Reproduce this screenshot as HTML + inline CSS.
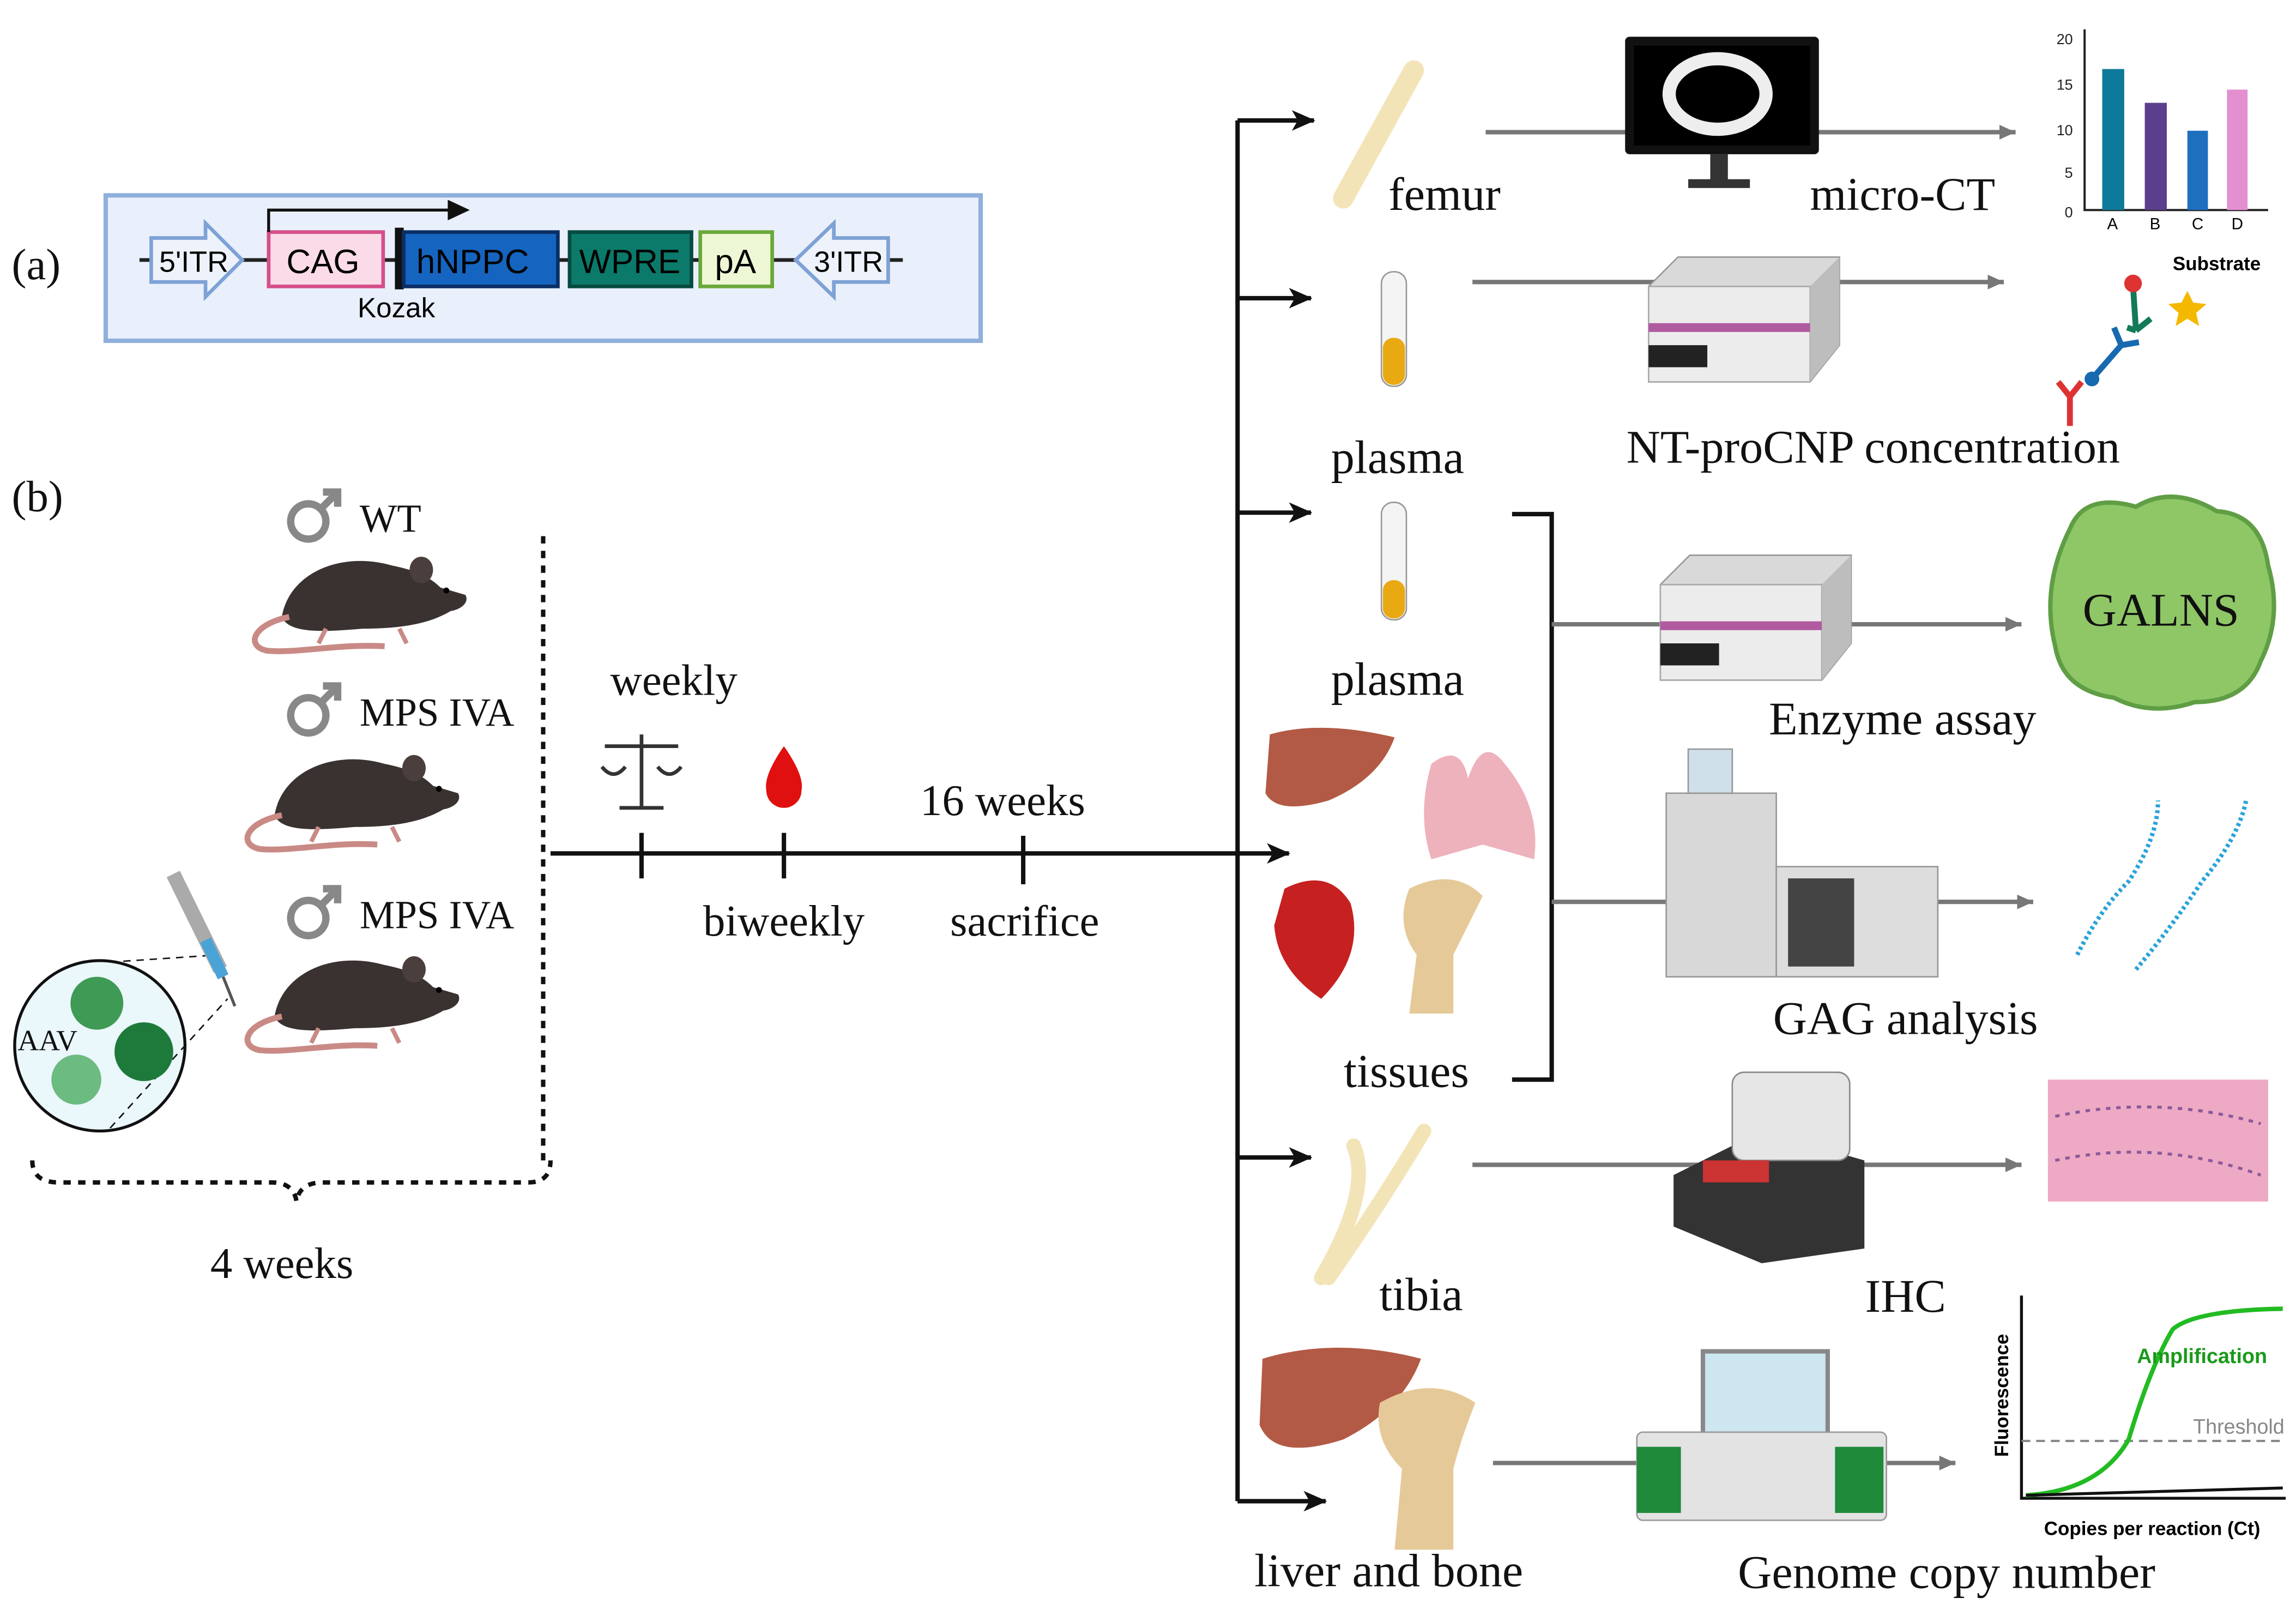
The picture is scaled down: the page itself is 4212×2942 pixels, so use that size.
<!DOCTYPE html>
<html><head><meta charset="utf-8"><style>
html,body{margin:0;padding:0;background:#fff}
svg{display:block}
.s{font-family:"Liberation Serif",serif;fill:#111}
.a{font-family:"Liberation Sans",sans-serif}
</style></head><body>
<svg width="4212" height="2942" viewBox="0 0 1564 1092" preserveAspectRatio="none" xmlns="http://www.w3.org/2000/svg">
<defs>
<marker id="ak" markerWidth="8" markerHeight="8" refX="7" refY="4" orient="auto" markerUnits="userSpaceOnUse"><path d="M0,0 L16,4 L0,8 Z" transform="scale(0.5,1)" fill="#111"/></marker>
<marker id="ag" markerWidth="12" markerHeight="12" refX="11" refY="6" orient="auto" markerUnits="userSpaceOnUse"><path d="M0,1 L11,6 L0,11 Z" fill="#777"/></marker>
<marker id="ab" markerWidth="16" markerHeight="14" refX="15" refY="7" orient="auto" markerUnits="userSpaceOnUse"><path d="M0,0 L16,7 L0,14 L4,7 Z" fill="#111"/></marker>
<g id="mouse">
<path d="M0,40 C5,10 40,-5 75,5 C90,8 100,12 108,20 L125,25 C128,30 122,35 115,36 C100,45 80,48 55,48 C30,50 5,52 0,40Z" fill="#3a3230"/>
<ellipse cx="95" cy="8" rx="8" ry="9" fill="#4a3f3c"/><circle cx="112" cy="22" r="2" fill="#000"/>
<path d="M5,40 C-20,45 -25,60 -10,63 C10,65 40,58 70,60" stroke="#c98a86" stroke-width="4" fill="none"/>
<path d="M30,48 l-5,10 M80,48 l5,10" stroke="#c98a86" stroke-width="3"/>
</g>
<g id="male"><circle cx="0" cy="0" r="12" fill="none" stroke="#888" stroke-width="5"/><path d="M8,-8 L20,-20 M10,-20 L20,-20 L20,-10" stroke="#888" stroke-width="5" fill="none"/></g>
<g id="reader"><path d="M0,20 L20,0 L130,0 L130,60 L110,85 L0,85Z" fill="#d9d9d9" stroke="#999"/><rect x="0" y="20" width="110" height="65" fill="#ececec" stroke="#aaa"/><path d="M110,20 L130,0 L130,60 L110,85Z" fill="#bdbdbd"/><rect x="0" y="45" width="110" height="6" fill="#b05aa0"/><rect x="0" y="60" width="40" height="15" fill="#222"/></g>
</defs>

<!-- (a) -->
<text x="8" y="190" class="s" font-size="30">(a)</text>
<rect x="72" y="133" width="596" height="99" fill="#e9f0fb" stroke="#8fb0dc" stroke-width="3"/>
<line x1="95" y1="177" x2="615" y2="177" stroke="#222" stroke-width="2.5"/>
<path d="M103,162 L140,162 L140,152 L165,177 L140,202 L140,192 L103,192Z" fill="#eef3fb" stroke="#7ea2d6" stroke-width="2.5"/>
<text x="132" y="185" class="a" font-size="20" text-anchor="middle">5'ITR</text>
<rect x="183" y="158" width="78" height="37" fill="#fbdbe7" stroke="#d64f8a" stroke-width="2.5"/>
<text x="220" y="186" class="a" font-size="23" text-anchor="middle">CAG</text>
<rect x="269" y="155" width="6" height="42" fill="#111"/>
<rect x="275" y="158" width="105" height="37" fill="#1565c0" stroke="#0a2f66" stroke-width="2.5"/>
<text x="322" y="186" class="a" font-size="23" text-anchor="middle">hNPPC</text>
<rect x="388" y="158" width="83" height="37" fill="#0b7a6a" stroke="#064a40" stroke-width="2.5"/>
<text x="429" y="186" class="a" font-size="23" text-anchor="middle">WPRE</text>
<rect x="477" y="158" width="49" height="37" fill="#eef7d5" stroke="#6aa83a" stroke-width="2.5"/>
<text x="501" y="186" class="a" font-size="23" text-anchor="middle">pA</text>
<path d="M605,162 L568,162 L568,152 L542,177 L568,202 L568,192 L605,192Z" fill="#eef3fb" stroke="#7ea2d6" stroke-width="2.5"/>
<text x="578" y="185" class="a" font-size="20" text-anchor="middle">3'ITR</text>
<path d="M183,158 L183,143 L310,143" stroke="#111" stroke-width="2" fill="none"/>
<path d="M305,136 L320,143 L305,150Z" fill="#111"/>
<text x="270" y="216" class="a" font-size="19" text-anchor="middle">Kozak</text>

<!-- (b) -->
<text x="8" y="348" class="s" font-size="30">(b)</text>
<use href="#male" x="210" y="355"/><text x="245" y="362" class="s" font-size="27">WT</text>
<use href="#male" x="210" y="487"/><text x="245" y="494" class="s" font-size="27">MPS IVA</text>
<use href="#male" x="210" y="625"/><text x="245" y="632" class="s" font-size="27">MPS IVA</text>
<use href="#mouse" x="192" y="380"/>
<use href="#mouse" x="187" y="515"/>
<use href="#mouse" x="187" y="652"/>
<!-- AAV circle + syringe -->
<circle cx="68" cy="712" r="58" fill="#eaf7fb" stroke="#111" stroke-width="2"/>
<path d="M75,655 L150,650 M75,768 L155,680" stroke="#111" stroke-dasharray="5,4"/>
<circle cx="66" cy="683" r="18" fill="#3f9a55"/><circle cx="98" cy="716" r="20" fill="#1e7a3a"/><circle cx="52" cy="735" r="17" fill="#6cbb80"/>
<text x="12" y="715" class="s" font-size="20">AAV</text>
<path d="M118,595 L150,660" stroke="#aaa" stroke-width="10"/><path d="M140,640 L152,665" stroke="#4aa3d6" stroke-width="8"/><path d="M152,665 L160,685" stroke="#555" stroke-width="2"/>
<!-- dotted line and brace -->
<line x1="370" y1="365" x2="370" y2="790" stroke="#111" stroke-width="3" stroke-dasharray="5,5"/>
<path d="M22,790 Q22,805 40,805 L185,805 Q200,805 202,818 Q204,805 220,805 L360,805 Q375,805 375,790" fill="none" stroke="#111" stroke-width="3" stroke-dasharray="5,5"/>
<text x="192" y="870" class="s" font-size="30" text-anchor="middle">4 weeks</text>
<!-- timeline -->
<line x1="375" y1="581" x2="878" y2="581" stroke="#111" stroke-width="3" marker-end="url(#ab)"/>
<path d="M437,567 V598 M534,567 V598 M697,569 V602" stroke="#111" stroke-width="3"/>
<text x="459" y="473" class="s" font-size="30" text-anchor="middle">weekly</text>
<g stroke="#333" stroke-width="2.5" fill="none"><path d="M437,500 V550 M412,508 H462 M422,550 H452"/><path d="M410,522 Q418,532 426,522 M448,522 Q456,532 464,522"/></g>
<path d="M534,508 Q548,528 546,538 A12,12 0 0 1 522,538 Q520,528 534,508Z" fill="#e01010"/>
<text x="683" y="555" class="s" font-size="30" text-anchor="middle">16 weeks</text>
<text x="534" y="637" class="s" font-size="30" text-anchor="middle">biweekly</text>
<text x="698" y="637" class="s" font-size="30" text-anchor="middle">sacrifice</text>
<!-- branches -->
<line x1="843" y1="82" x2="843" y2="1022" stroke="#111" stroke-width="3"/>
<g stroke="#111" stroke-width="3">
<line x1="843" y1="82" x2="895" y2="82" marker-end="url(#ab)"/>
<line x1="843" y1="203" x2="893" y2="203" marker-end="url(#ab)"/>
<line x1="843" y1="349" x2="893" y2="349" marker-end="url(#ab)"/>
<line x1="843" y1="788" x2="893" y2="788" marker-end="url(#ab)"/>
<line x1="843" y1="1022" x2="903" y2="1022" marker-end="url(#ab)"/>
</g>
<path d="M1030,350 H1057 V735 H1030" stroke="#111" stroke-width="3" fill="none"/>
<!-- icons left column -->
<path d="M963,48 L915,135" stroke="#f3e4b8" stroke-width="14" stroke-linecap="round"/>
<path d="M922,780 Q935,810 900,870 M970,770 Q940,820 905,870" stroke="#f3e4b8" stroke-width="10" fill="none" stroke-linecap="round"/>
<rect x="941" y="185" width="17" height="78" rx="8" fill="#f4f4f4" stroke="#999"/><rect x="942" y="230" width="15" height="32" rx="7" fill="#e8a912"/>
<rect x="941" y="342" width="17" height="80" rx="8" fill="#f4f4f4" stroke="#999"/><rect x="942" y="395" width="15" height="26" rx="7" fill="#e8a912"/>
<path d="M865,500 Q900,490 950,502 Q940,530 905,545 Q870,555 862,540Z" fill="#b25a45"/>
<path d="M975,520 Q995,505 1000,530 Q1010,500 1025,520 Q1050,550 1045,585 L1010,575 L975,585 Q965,555 975,520Z" fill="#eeb2bd"/>
<path d="M875,605 Q905,590 920,615 Q930,650 900,680 Q870,660 868,630Z" fill="#c62020"/>
<path d="M960,605 Q990,590 1010,610 Q1000,630 990,650 L990,690 L960,690 L965,650 Q950,630 960,605Z" fill="#e6c998"/>
<path d="M860,925 Q910,910 968,925 Q955,960 915,980 Q868,995 858,970Z" fill="#b25a45"/>
<path d="M940,955 Q975,935 1005,955 Q995,980 990,1000 L990,1055 L950,1055 L955,1000 Q935,980 940,955Z" fill="#e6c998"/>
<text x="984" y="143" class="s" font-size="32" text-anchor="middle">femur</text>
<text x="952" y="322" class="s" font-size="32" text-anchor="middle">plasma</text>
<text x="952" y="473" class="s" font-size="32" text-anchor="middle">plasma</text>
<text x="958" y="740" class="s" font-size="32" text-anchor="middle">tissues</text>
<text x="968" y="892" class="s" font-size="32" text-anchor="middle">tibia</text>
<text x="946" y="1080" class="s" font-size="32" text-anchor="middle">liver and bone</text>
<!-- gray arrows -->
<g stroke="#777" stroke-width="3">
<line x1="1012" y1="90" x2="1373" y2="90" marker-end="url(#ag)"/>
<line x1="1003" y1="192" x2="1365" y2="192" marker-end="url(#ag)"/>
<line x1="1057" y1="425" x2="1377" y2="425" marker-end="url(#ag)"/>
<line x1="1057" y1="614" x2="1385" y2="614" marker-end="url(#ag)"/>
<line x1="1003" y1="793" x2="1377" y2="793" marker-end="url(#ag)"/>
<line x1="1017" y1="996" x2="1332" y2="996" marker-end="url(#ag)"/>
</g>
<!-- instruments -->
<rect x="1107" y="25" width="132" height="80" rx="3" fill="#111"/><rect x="1113" y="31" width="120" height="68" fill="#000"/>
<ellipse cx="1170" cy="64" rx="33" ry="24" fill="none" stroke="#eee" stroke-width="9"/>
<rect x="1165" y="105" width="12" height="18" fill="#333"/><rect x="1150" y="122" width="42" height="6" fill="#333"/>
<use href="#reader" x="1123" y="175"/>
<use href="#reader" x="1131" y="378"/>
<rect x="1135" y="540" width="75" height="125" fill="#d8d8d8" stroke="#999"/><rect x="1210" y="590" width="110" height="75" fill="#ddd" stroke="#999"/><rect x="1218" y="598" width="45" height="60" fill="#444"/>
<rect x="1150" y="510" width="30" height="30" fill="#cfe0ea" stroke="#999"/>
<path d="M1140,800 L1200,770 L1270,790 L1270,850 L1200,860 L1140,835Z" fill="#333"/><rect x="1180" y="730" width="80" height="60" rx="8" fill="#e6e6e6" stroke="#888"/><rect x="1160" y="790" width="45" height="15" fill="#c33"/>
<rect x="1160" y="920" width="85" height="58" fill="#cde6f0" stroke="#888" stroke-width="3"/>
<rect x="1115" y="975" width="170" height="60" rx="4" fill="#e3e3e3" stroke="#999"/><rect x="1115" y="985" width="30" height="45" fill="#1e8a3a"/><rect x="1250" y="985" width="33" height="45" fill="#1e8a3a"/>
<text x="1296" y="143" class="s" font-size="32" text-anchor="middle">micro-CT</text>
<text x="1276" y="315" class="s" font-size="32" text-anchor="middle">NT-proCNP concentration</text>
<text x="1296" y="500" class="s" font-size="32" text-anchor="middle">Enzyme assay</text>
<text x="1298" y="704" class="s" font-size="32" text-anchor="middle">GAG analysis</text>
<text x="1298" y="893" class="s" font-size="32" text-anchor="middle">IHC</text>
<text x="1326" y="1081" class="s" font-size="32" text-anchor="middle">Genome copy number</text>
<!-- bar chart -->
<g class="a" font-size="10" fill="#222" text-anchor="end">
<text x="1412" y="30">20</text><text x="1412" y="61">15</text><text x="1412" y="92">10</text><text x="1412" y="121">5</text><text x="1412" y="148">0</text></g>
<path d="M1420,20 V143 H1545" stroke="#222" stroke-width="1.5" fill="none"/>
<rect x="1432" y="47" width="15" height="96" fill="#0e7a9b"/><rect x="1461" y="70" width="15" height="73" fill="#5b3f8c"/>
<rect x="1490" y="89" width="14" height="54" fill="#1f6fbf"/><rect x="1517" y="61" width="14" height="82" fill="#e38fd0"/>
<g class="a" font-size="11" text-anchor="middle"><text x="1439" y="156">A</text><text x="1468" y="156">B</text><text x="1497" y="156">C</text><text x="1524" y="156">D</text></g>
<!-- antibody -->
<text x="1510" y="184" class="a" font-size="13" font-weight="bold" text-anchor="middle">Substrate</text>
<path d="M1490,198 l4,8 9,1 -7,6 2,9 -8,-5 -8,5 2,-9 -7,-6 9,-1z" fill="#f5b800"/>
<g stroke-width="4" fill="none"><path d="M1410,290 V270 M1410,270 l-8,-10 M1410,270 l8,-10" stroke="#d33"/><path d="M1425,258 L1445,235 M1445,235 l-5,-12 M1445,235 l12,-2" stroke="#1769b0"/><path d="M1453,195 L1455,225 M1455,225 l-6,-2 M1455,225 l10,-8" stroke="#137a5a"/></g>
<circle cx="1425" cy="258" r="5" fill="#1769b0"/><circle cx="1453" cy="193" r="6" fill="#d33"/>
<!-- GALNS -->
<path d="M1410,360 Q1420,335 1455,345 Q1480,330 1510,348 Q1540,350 1545,385 Q1555,420 1540,450 Q1530,478 1495,478 Q1465,488 1440,475 Q1405,470 1400,440 Q1390,400 1410,360Z" fill="#8fc767" stroke="#5f9e44" stroke-width="3"/>
<text x="1472" y="426" class="s" font-size="32" text-anchor="middle">GALNS</text>
<!-- GAG chains -->
<path d="M1415,650 Q1430,620 1450,600 Q1470,570 1470,545 M1455,660 Q1480,630 1500,600 Q1525,570 1530,545" stroke="#29a3d9" stroke-width="3" fill="none" stroke-dasharray="2,2"/>
<!-- IHC -->
<rect x="1395" y="735" width="150" height="83" fill="#eea9c4"/>
<path d="M1400,760 Q1470,745 1540,765 M1400,790 Q1470,775 1540,800" stroke="#8a5a9a" stroke-width="2" stroke-dasharray="3,4" fill="none"/>
<!-- qPCR -->
<path d="M1377,882 V1020 H1557" stroke="#111" stroke-width="2" fill="none"/>
<line x1="1377" y1="981" x2="1557" y2="981" stroke="#888" stroke-width="1.5" stroke-dasharray="6,4"/>
<path d="M1380,1018 Q1430,1015 1450,980 Q1465,930 1480,905 Q1495,892 1555,891" stroke="#22bb22" stroke-width="3" fill="none"/>
<path d="M1380,1018 L1555,1013" stroke="#111" stroke-width="2" fill="none"/>
<text x="1500" y="928" class="a" font-size="14" font-weight="bold" fill="#1a9a1a" text-anchor="middle">Amplification</text>
<text x="1525" y="976" class="a" font-size="14" fill="#888" text-anchor="middle">Threshold</text>
<text x="1466" y="1045" class="a" font-size="13" font-weight="bold" text-anchor="middle">Copies per reaction (Ct)</text>
<text x="1368" y="950" class="a" font-size="13" font-weight="bold" text-anchor="middle" transform="rotate(-90 1368 950)">Fluorescence</text>
</svg>
</body></html>
